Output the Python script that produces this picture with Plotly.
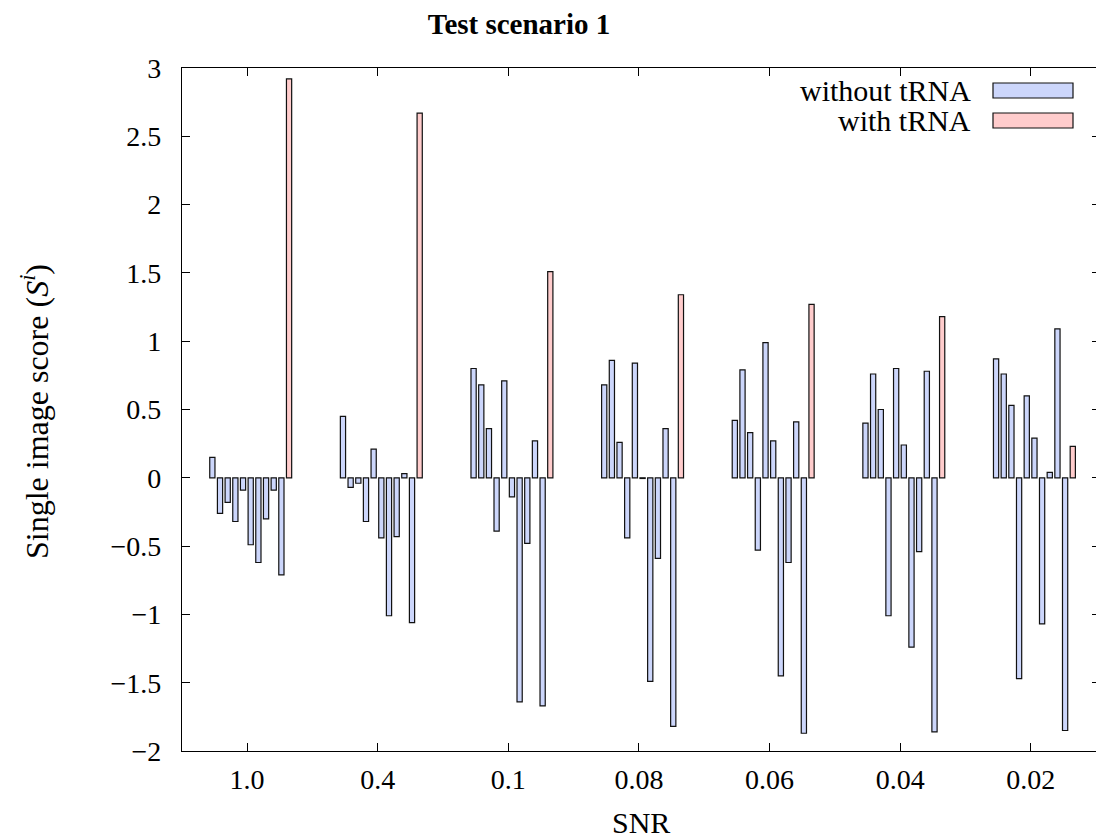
import plotly.graph_objects as go

# ---------------- data ----------------
snr_labels = ["1.0", "0.4", "0.1", "0.08", "0.06", "0.04", "0.02"]

# single image scores without tRNA: 10 images per SNR level
without_trna = [
    [0.15, -0.26, -0.18, -0.32, -0.09, -0.49, -0.62, -0.30, -0.09, -0.71],
    [0.45, -0.07, -0.04, -0.32, 0.21, -0.44, -1.01, -0.43, 0.03, -1.06],
    [0.80, 0.68, 0.36, -0.39, 0.71, -0.14, -1.64, -0.48, 0.27, -1.67],
    [0.68, 0.86, 0.26, -0.44, 0.84, -0.005, -1.49, -0.59, 0.36, -1.82],
    [0.42, 0.79, 0.33, -0.53, 0.99, 0.27, -1.45, -0.62, 0.41, -1.87],
    [0.40, 0.76, 0.50, -1.01, 0.80, 0.24, -1.24, -0.54, 0.78, -1.86],
    [0.87, 0.76, 0.53, -1.47, 0.60, 0.29, -1.07, 0.04, 1.09, -1.85],
]
# score with tRNA: one per SNR level
with_trna = [2.92, 2.67, 1.51, 1.34, 1.27, 1.18, 0.23]

y_ticks = [3, 2.5, 2, 1.5, 1, 0.5, 0, -0.5, -1, -1.5, -2]

# ---------------- style ----------------
FONT = "Liberation Serif"
FS = 28
FS_TXT = 30
BLUE = "#ccd6fb"
RED = "#ffcccc"
EDGE = "#111111"

# the page body has an 8px margin; the figure is sized to fit the window
OFF = 8
W, H = 1104 - OFF, 839 - OFF
ML, MR, MT, MB = 182 - OFF, 4, 68 - OFF, 88
PW, PH = W - ML - MR, H - MT - MB

def px_x(p):  # window pixel -> paper coordinate
    return (p - OFF - ML) / PW

def px_y(p):
    return (H - MB - (p - OFF)) / PH

groups = list(range(len(snr_labels)))
n_img = len(without_trna[0])

fig = go.Figure()
for j in range(n_img):
    fig.add_trace(go.Bar(
        x=groups,
        y=[without_trna[g][j] for g in groups],
        marker=dict(color=BLUE, line=dict(color=EDGE, width=1.2)),
        name="without tRNA",
        showlegend=False,
    ))
fig.add_trace(go.Bar(
    x=groups,
    y=with_trna,
    marker=dict(color=RED, line=dict(color=EDGE, width=1.2)),
    name="with tRNA",
    showlegend=False,
))

axis_common = dict(
    showline=True, linecolor="black", linewidth=1.3, mirror="ticks",
    ticks="inside", ticklen=8, tickwidth=1.2, tickcolor="black",
    showgrid=False, zeroline=False,
    tickfont=dict(family=FONT, size=FS, color="black"),
)

fig.update_layout(
    width=W, height=H,
    margin=dict(l=ML, r=MR, t=MT, b=MB),
    paper_bgcolor="white", plot_bgcolor="white",
    barmode="group", bargap=0.354, bargroupgap=0.32,
    font=dict(family=FONT, size=FS, color="black"),
    title=dict(text="<b>Test scenario 1</b>", xref="container", x=(519 - OFF) / W,
               xanchor="center", yref="container", y=1 - (24 - OFF) / H, yanchor="middle",
               font=dict(family=FONT, size=29, color="black")),
    xaxis=dict(axis_common, range=[-0.526, 6.502],
               tickmode="array", tickvals=[g - 0.028 for g in groups],
               ticktext=snr_labels, ticklabelstandoff=3),
    yaxis=dict(axis_common, range=[-2, 3], tickmode="array",
               tickvals=y_ticks, ticklabelstandoff=14),
    showlegend=False,
)

# axis titles
fig.add_annotation(text="SNR", xref="paper", yref="paper", x=px_x(641), y=px_y(822),
                   showarrow=False, xanchor="center", yanchor="middle",
                   font=dict(family=FONT, size=FS_TXT, color="black"))
fig.add_annotation(text="Single image score (<i>S</i><sup><i>i</i></sup>)",
                   xref="paper", yref="paper", x=px_x(35), y=px_y(412),
                   textangle=-90, showarrow=False, xanchor="center", yanchor="middle",
                   font=dict(family=FONT, size=32, color="black"))

# legend (text on the left, key box on the right, as in the original)
legend_rows = [("without tRNA", BLUE, 90.5), ("with tRNA", RED, 120.5)]
for label, col, cy in legend_rows:
    fig.add_annotation(text=label, xref="paper", yref="paper", x=px_x(973), y=px_y(cy),
                       showarrow=False, xanchor="right", yanchor="middle",
                       font=dict(family=FONT, size=FS_TXT, color="black"))
    fig.add_shape(type="rect", xref="paper", yref="paper",
                  x0=px_x(993), x1=px_x(1073), y0=px_y(cy + 7.5), y1=px_y(cy - 7.5),
                  fillcolor=col, line=dict(color=EDGE, width=1.2))

fig.write_html("out.html")
